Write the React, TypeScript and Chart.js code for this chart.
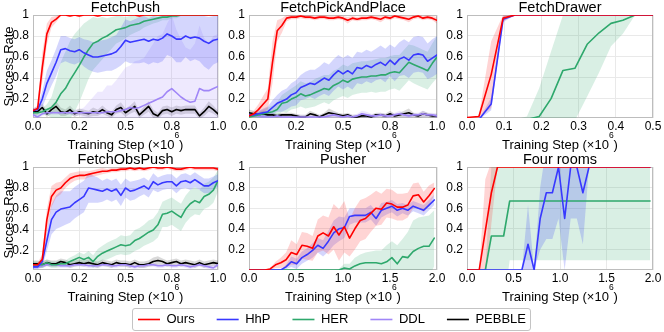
import React, { useEffect, useRef } from "react";
import { Chart, registerables } from "chart.js";

Chart.register(...registerables);

const FONT = '"Liberation Sans", Arial, Helvetica, sans-serif';

const seriesNames = ["Ours", "HhP", "HER", "DDL", "PEBBLE"];
const lineColors = ["#ff0000", "#3838ff", "#2ea86c", "#a086f7", "#000000"];
const bandColors = [
  "rgba(255,40,40,0.2)",
  "rgba(60,70,245,0.22)",
  "rgba(46,168,108,0.18)",
  "rgba(160,134,247,0.18)",
  "rgba(0,0,0,0.15)",
];

const yTicks = [0.2, 0.4, 0.6, 0.8, 1];
const yTickLabels = ["0.2", "0.4", "0.6", "0.8", "1"];
const fetchTicks = [0, 0.25, 0.5, 0.75, 1];
const fetchTickLabels = ["0.0", "0.2", "0.5", "0.8", "1.0"];
const drawerTicks = [0, 0.1, 0.2, 0.3, 0.4, 0.5];
const drawerTickLabels = ["0.0", "0.1", "0.2", "0.3", "0.4", "0.5"];
const longTicks = [0, 0.5, 1, 1.5, 2];
const longTickLabels = ["0.0", "0.5", "1.0", "1.5", "2.0"];

// ---------- x grids ----------
const fetchX = [0,0.025,0.05,0.075,0.1,0.125,0.15,0.175,0.2,0.225,0.25,0.275,0.3,0.325,0.35,0.375,0.4,0.425,0.45,0.475,0.5,0.525,0.55,0.575,0.6,0.625,0.65,0.675,0.7,0.725,0.75,0.775,0.8,0.825,0.85,0.875,0.9,0.925,0.95,0.975,1];
const drawerX = [0,0.032,0.065,0.097,0.129,0.161,0.194,0.226,0.258,0.29,0.323,0.355,0.387,0.419,0.452,0.484,0.5];
const pusherX = [0,0.056,0.113,0.169,0.225,0.282,0.338,0.394,0.45,0.507,0.563,0.619,0.676,0.732,0.788,0.845,0.901,0.957,1.014,1.07,1.126,1.183,1.239,1.295,1.352,1.408,1.464,1.52,1.577,1.633,1.689,1.746,1.802,1.858,1.915,1.971];
const roomsX = [0,0.066,0.131,0.197,0.262,0.328,0.394,0.459,0.525,0.59,0.656,0.722,0.787,0.853,0.918,0.984,1.05,1.115,1.181,1.246,1.312,1.378,1.443,1.509,1.574,1.64,1.706,1.771,1.837,1.902,1.968];

// ---------- FetchPush ----------
const pushOurs = [0.09,0.11,0.5,0.82,0.93,0.96,1,1,0.99,1, 0.99,1,1,1,0.99,1,1,1,1,1, 1,1,1,0.99,1,1,1,1,1,1, 1,1,1,1,1,1,1,1,1,1, 1];
const pushOursSd = [0.02,0.03,0.14,0.1,0.05,0.03,0.01,0.01,0.01,0.01, 0.01,0.01,0.01,0.01,0.01,0.01,0.01,0.01,0.01,0.01, 0.01,0.01,0.01,0.01,0.01,0.01,0.01,0.01,0.01,0.01, 0.01,0.01,0.01,0.01,0.01,0.01,0.01,0.01,0.01,0.01, 0.01];
const pushHhP = [0.09,0.1,0.2,0.35,0.45,0.55,0.67,0.68,0.66,0.65, 0.67,0.64,0.62,0.6,0.6,0.61,0.62,0.63,0.65,0.7, 0.76,0.74,0.75,0.76,0.77,0.75,0.77,0.76,0.78,0.82, 0.8,0.77,0.77,0.8,0.78,0.79,0.78,0.75,0.73,0.76, 0.77];
const pushHhPSd = [0.02,0.03,0.08,0.12,0.12,0.13,0.13,0.12,0.12,0.12, 0.12,0.13,0.14,0.14,0.15,0.15,0.15,0.16,0.16,0.18, 0.2,0.2,0.21,0.22,0.22,0.22,0.22,0.22,0.22,0.2, 0.2,0.22,0.22,0.2,0.22,0.21,0.22,0.24,0.25,0.23, 0.22];
const pushHer = [0.07,0.07,0.08,0.1,0.12,0.17,0.25,0.3,0.38,0.45, 0.52,0.6,0.67,0.73,0.75,0.78,0.8,0.83,0.86,0.87, 0.88,0.9,0.91,0.92,0.94,0.95,0.96,0.97,0.98,0.98, 0.99,0.99,1,1,1,1,1,1,1,1, 1];
const pushHerSd = [0.03,0.03,0.03,0.05,0.1,0.2,0.3,0.35,0.37,0.37, 0.35,0.32,0.28,0.25,0.22,0.2,0.17,0.15,0.13,0.12, 0.1,0.09,0.08,0.07,0.06,0.05,0.04,0.04,0.03,0.03, 0.02,0.02,0.01,0.01,0.01,0.01,0.01,0.01,0.01,0.01, 0.01];
const pushDdl = [0.05,0.03,0.06,0.07,0.07,0.07,0.07,0.07,0.07,0.07, 0.07,0.07,0.07,0.07,0.07,0.07,0.08,0.08,0.08,0.09, 0.1,0.12,0.11,0.12,0.14,0.16,0.18,0.2,0.22,0.27, 0.3,0.26,0.22,0.19,0.17,0.18,0.3,0.28,0.28,0.3, 0.32];
const pushDdlSd = [0.02,0.02,0.02,0.02,0.02,0.02,0.02,0.02,0.02,0.03, 0.03,0.05,0.1,0.15,0.2,0.2,0.25,0.25,0.3,0.35, 0.4,0.4,0.45,0.45,0.45,0.5,0.55,0.6,0.6,0.65, 0.7,0.6,0.55,0.5,0.5,0.55,0.6,0.5,0.45,0.5, 0.5];
const pushPebble = [0.08,0.08,0.12,0.06,0.1,0.13,0.08,0.07,0.1,0.06, 0.08,0.07,0.06,0.08,0.07,0.1,0.07,0.05,0.1,0.12, 0.07,0.1,0.13,0.05,0.09,0.13,0.06,0.04,0.09,0.1, 0.08,0.1,0.09,0.1,0.1,0.1,0.04,0.08,0.13,0.1, 0.06];
const pushPebbleSd = [0.03,0.03,0.04,0.03,0.04,0.05,0.04,0.03,0.04,0.03, 0.03,0.03,0.03,0.04,0.03,0.04,0.03,0.03,0.04,0.05, 0.04,0.04,0.05,0.03,0.04,0.05,0.04,0.03,0.04,0.04, 0.04,0.04,0.04,0.04,0.04,0.04,0.03,0.04,0.05,0.04, 0.03];

// ---------- FetchPickAndPlace ----------
const ppOurs = [0.04,0.06,0.1,0.15,0.2,0.55,0.85,0.9,0.97,0.98, 0.98,0.99,0.98,0.98,0.97,0.98,0.98,0.97,0.97,0.98, 0.97,0.95,0.97,0.96,0.97,0.97,0.98,0.97,0.96,0.98, 0.97,0.99,0.98,0.97,0.96,0.98,0.99,0.97,0.98,0.97, 0.95];
const ppOursSd = [0.02,0.03,0.05,0.08,0.1,0.2,0.1,0.07,0.03,0.02, 0.02,0.02,0.02,0.02,0.02,0.02,0.02,0.02,0.02,0.02, 0.02,0.03,0.02,0.02,0.02,0.02,0.02,0.02,0.03,0.02, 0.02,0.02,0.02,0.02,0.03,0.02,0.02,0.02,0.02,0.02, 0.03];
const ppHhP = [0.05,0.05,0.06,0.07,0.08,0.12,0.16,0.18,0.2,0.24, 0.26,0.31,0.33,0.35,0.34,0.37,0.4,0.38,0.43,0.47, 0.44,0.47,0.44,0.5,0.49,0.52,0.5,0.53,0.55,0.52, 0.57,0.53,0.58,0.6,0.57,0.62,0.63,0.62,0.56,0.59, 0.62];
const ppHhPSd = [0.02,0.02,0.03,0.04,0.05,0.07,0.08,0.1,0.1,0.11, 0.12,0.12,0.13,0.13,0.14,0.14,0.15,0.15,0.15,0.15, 0.15,0.15,0.15,0.15,0.15,0.15,0.15,0.15,0.16,0.16, 0.15,0.16,0.16,0.17,0.17,0.17,0.17,0.17,0.17,0.18, 0.18];
const ppHer = [0.03,0.04,0.05,0.06,0.07,0.08,0.1,0.16,0.17,0.2, 0.22,0.25,0.23,0.24,0.26,0.28,0.3,0.29,0.33,0.35, 0.38,0.36,0.39,0.4,0.41,0.41,0.42,0.42,0.43,0.43, 0.45,0.46,0.45,0.5,0.55,0.53,0.51,0.49,0.47,0.54, 0.6];
const ppHerSd = [0.02,0.02,0.03,0.04,0.05,0.06,0.07,0.08,0.1,0.1, 0.11,0.12,0.12,0.12,0.13,0.13,0.13,0.14,0.14,0.14, 0.15,0.15,0.15,0.15,0.15,0.15,0.15,0.16,0.16,0.16, 0.16,0.16,0.17,0.17,0.17,0.18,0.18,0.18,0.18,0.19, 0.2];
const ppDdl = [0.04,0.05,0.04,0.03,0.03,0.03,0.04,0.03,0.03,0.03, 0.03,0.03,0.03,0.03,0.03,0.03,0.03,0.04,0.05,0.04, 0.03,0.04,0.03,0.04,0.06,0.05,0.04,0.04,0.05,0.04, 0.04,0.05,0.06,0.05,0.04,0.05,0.05,0.06,0.05,0.05, 0.04];
const ppDdlSd = [0.02,0.02,0.02,0.02,0.02,0.02,0.02,0.02,0.02,0.02, 0.02,0.02,0.02,0.02,0.02,0.02,0.02,0.03,0.03,0.02, 0.02,0.02,0.02,0.02,0.03,0.03,0.02,0.02,0.02,0.02, 0.02,0.02,0.03,0.02,0.02,0.02,0.02,0.03,0.02,0.02, 0.02];
const ppPebble = [0.07,0.06,0.05,0.06,0.05,0.05,0.04,0.05,0.05,0.05, 0.04,0.03,0.03,0.06,0.05,0.03,0.05,0.07,0.06,0.05, 0.04,0.05,0.03,0.03,0.04,0.04,0.03,0.05,0.05,0.04, 0.06,0.04,0.05,0.06,0.07,0.05,0.04,0.06,0.05,0.04, 0.04];
const ppPebbleSd = [0.03,0.03,0.02,0.03,0.02,0.02,0.02,0.02,0.02,0.02, 0.02,0.02,0.02,0.03,0.02,0.02,0.02,0.04,0.03,0.02, 0.02,0.02,0.02,0.02,0.02,0.02,0.02,0.02,0.02,0.02, 0.03,0.02,0.02,0.03,0.04,0.02,0.02,0.03,0.02,0.02, 0.02];

// ---------- FetchDrawer ----------
const drawerOurs = [0.02,0.03,0.43,0.97,1,1,1,1,1,1,1,1,1,1,1,1,1];
const drawerOursSd = [0,0.01,0.32,0.03,0,0,0,0,0,0,0,0,0,0,0,0,0];
const drawerHhP = [0,0,0.15,0.96,1,1,1,1,1,1,1,1,1,1,1,1,1];
const drawerHhPSd = [0,0,0.06,0.03,0,0,0,0,0,0,0,0,0,0,0,0,0];
const drawerHer = [0,0,0,0,0,0,0.03,0.2,0.47,0.49,0.72,0.83,0.92,0.95,1,1,1];
const drawerHerSd = [0,0,0,0,0,0.03,0.27,0.45,0.53,0.5,0.5,0.38,0.22,0.13,0,0,0];

// ---------- FetchObsPush ----------
const obsOurs = [0.07,0.07,0.12,0.5,0.72,0.78,0.8,0.85,0.89,0.91, 0.92,0.92,0.93,0.94,0.95,0.96,0.96,0.97,0.97,0.98, 0.98,0.99,0.98,0.99,0.98,0.99,1,0.99,0.99,1, 0.99,0.98,0.98,0.99,1,0.99,0.99,0.99,0.99,0.99, 0.98];
const obsOursSd = [0.02,0.02,0.05,0.1,0.1,0.07,0.06,0.05,0.05,0.04, 0.04,0.04,0.03,0.03,0.03,0.03,0.02,0.02,0.02,0.02, 0.02,0.02,0.02,0.02,0.02,0.02,0.02,0.02,0.02,0.02, 0.02,0.02,0.02,0.02,0.02,0.02,0.02,0.02,0.02,0.02, 0.02];
const obsHhP = [0.05,0.05,0.1,0.3,0.5,0.57,0.6,0.61,0.62,0.66, 0.69,0.72,0.8,0.79,0.78,0.77,0.79,0.77,0.79,0.73, 0.8,0.77,0.78,0.8,0.82,0.79,0.86,0.83,0.85,0.86, 0.86,0.82,0.86,0.87,0.85,0.88,0.85,0.82,0.82,0.85, 0.87];
const obsHhPSd = [0.02,0.02,0.05,0.1,0.14,0.16,0.17,0.16,0.15,0.15, 0.15,0.15,0.14,0.13,0.12,0.1,0.1,0.1,0.1,0.1, 0.09,0.09,0.09,0.08,0.08,0.08,0.08,0.07,0.07,0.07, 0.07,0.07,0.07,0.07,0.07,0.07,0.07,0.07,0.07,0.06, 0.06];
const obsHer = [0.07,0.07,0.07,0.09,0.07,0.07,0.08,0.08,0.1,0.12, 0.14,0.12,0.14,0.1,0.15,0.18,0.2,0.22,0.24,0.26, 0.25,0.26,0.3,0.32,0.35,0.38,0.4,0.45,0.55,0.56, 0.58,0.55,0.52,0.6,0.65,0.68,0.66,0.72,0.74,0.78, 0.87];
const obsHerSd = [0.03,0.03,0.03,0.03,0.03,0.03,0.03,0.03,0.04,0.04, 0.05,0.05,0.06,0.06,0.07,0.07,0.08,0.08,0.08,0.09, 0.09,0.09,0.1,0.1,0.1,0.11,0.11,0.12,0.12,0.13, 0.13,0.13,0.13,0.13,0.13,0.13,0.12,0.12,0.12,0.12, 0.1];
const obsDdl = [0.05,0.05,0.06,0.07,0.07,0.07,0.06,0.06,0.06,0.07, 0.07,0.07,0.06,0.06,0.06,0.07,0.07,0.06,0.06,0.07, 0.07,0.06,0.05,0.06,0.06,0.07,0.07,0.06,0.06,0.07, 0.06,0.06,0.07,0.06,0.05,0.06,0.07,0.06,0.05,0.04, 0.07];
const obsDdlSd = [0.02,0.02,0.02,0.02,0.02,0.02,0.02,0.02,0.02,0.02, 0.02,0.02,0.02,0.02,0.02,0.02,0.02,0.02,0.02,0.02, 0.02,0.02,0.02,0.02,0.02,0.02,0.02,0.02,0.02,0.02, 0.02,0.02,0.02,0.02,0.02,0.02,0.02,0.02,0.02,0.03, 0.02];
const obsPebble = [0.08,0.08,0.07,0.09,0.08,0.08,0.1,0.09,0.07,0.08, 0.09,0.08,0.09,0.08,0.07,0.09,0.08,0.07,0.09,0.08, 0.08,0.07,0.09,0.07,0.07,0.08,0.1,0.11,0.1,0.08, 0.09,0.1,0.08,0.09,0.08,0.07,0.09,0.07,0.08,0.09, 0.08];
const obsPebbleSd = [0.03,0.03,0.03,0.03,0.03,0.03,0.03,0.03,0.03,0.03, 0.03,0.03,0.03,0.03,0.03,0.03,0.03,0.03,0.03,0.03, 0.03,0.03,0.03,0.03,0.03,0.03,0.04,0.04,0.03,0.03, 0.03,0.03,0.03,0.03,0.03,0.03,0.03,0.03,0.03,0.03, 0.03];

// ---------- Pusher ----------
const pusherOurs = [0,0,0,0,0.01,0.05,0.07,0.1,0.17,0.15, 0.24,0.23,0.21,0.33,0.36,0.33,0.42,0.34,0.42,0.31, 0.4,0.48,0.5,0.55,0.6,0.59,0.65,0.64,0.61,0.61, 0.63,0.72,0.73,0.66,0.72,0.79];
const pusherOursSd = [0,0,0,0,0.01,0.03,0.05,0.07,0.12,0.1, 0.13,0.13,0.12,0.16,0.17,0.18,0.22,0.25,0.25,0.18, 0.2,0.2,0.2,0.18,0.17,0.15,0.14,0.14,0.13,0.13, 0.12,0.12,0.12,0.1,0.1,0.06];
const pusherHhP = [0,0,0,0,0,0,0,0.03,0.08,0.06, 0.12,0.15,0.19,0.24,0.21,0.28,0.36,0.4,0.41,0.52, 0.53,0.53,0.53,0.56,0.5,0.58,0.6,0.62,0.58,0.6, 0.58,0.62,0.6,0.58,0.63,0.68];
const pusherHhPSd = [0,0,0,0,0,0,0,0.02,0.05,0.05, 0.06,0.06,0.07,0.07,0.08,0.1,0.12,0.12,0.1,0.08, 0.07,0.07,0.07,0.07,0.07,0.07,0.06,0.06,0.06,0.05, 0.05,0.05,0.05,0.05,0.05,0.05];
const pusherHer = [0,0,0,0,0,0,0,0,0,0, 0,0,0,0,0,0,0,0,0.02,0.01, 0.04,0.06,0.07,0.07,0.07,0.06,0.08,0.12,0.06,0.13, 0.12,0.18,0.21,0.23,0.23,0.31];
const pusherHerSd = [0,0,0,0,0,0,0,0,0,0, 0,0,0,0,0,0,0,0.01,0.04,0.05, 0.08,0.09,0.1,0.11,0.12,0.13,0.16,0.16,0.18,0.17, 0.25,0.3,0.3,0.29,0.3,0.27];

// ---------- Four rooms ----------
const roomsOurs = [0,0,0,0.38,0.75,1,1,1,1,1, 1,1,1,1,1,1,1,1,1,1, 1,1,1,1,1,1,1,1,1,1, 1];
const roomsOursSd = [0,0,0,0.5,0.3,0,0,0,0,0, 0,0,0,0,0,0,0,0,0,0, 0,0,0,0,0,0,0,0,0,0, 0];
const roomsHhP = [0,0,0,0,0,0,0,0,0,0, 0.25,0,0.5,0.75,0.75,1,0.5,1,1,0.75, 1,1,1,1,1,1,1,1,1,1, 1];
const roomsHhPSd = [0,0,0,0,0,0,0,0,0,0, 0.38,0,0.3,0.45,0.45,0.5,0.5,0.5,0.5,0.5, 0,0,0,0,0,0,0,0,0,0, 0];
const roomsHer = [0,0,0,0,0.33,0.33,0.33,0.67,0.67,0.67, 0.67,0.67,0.67,0.67,0.67,0.67,0.67,0.67,0.67,0.67, 0.67,0.67,0.67,0.67,0.67,0.67,0.67,0.67,0.67,0.67, 0.67];
const roomsHerSd = [0,0,0,0,0.67,0.67,0.67,0.575,0.575,0.575, 0.575,0.575,0.575,0.575,0.575,0.575,0.575,0.575,0.575,0.575, 0.575,0.575,0.575,0.575,0.575,0.575,0.575,0.575,0.575,0.575, 0.575];

type SeriesDef = [number, number[], number[]];
type PanelDef = {
  title: string;
  row: number;
  col: number;
  xs: number[];
  xMax: number;
  ticks: number[];
  tickLabels: string[];
  yMin: number;
  series: SeriesDef[];
};

const panels: PanelDef[] = [
  { title: "FetchPush", row: 0, col: 0, xs: fetchX, xMax: 1, ticks: fetchTicks, tickLabels: fetchTickLabels, yMin: 0.02,
    series: [[0, pushOurs, pushOursSd], [1, pushHhP, pushHhPSd], [2, pushHer, pushHerSd], [3, pushDdl, pushDdlSd], [4, pushPebble, pushPebbleSd]] },
  { title: "FetchPickAndPlace", row: 0, col: 1, xs: fetchX, xMax: 1, ticks: fetchTicks, tickLabels: fetchTickLabels, yMin: 0.02,
    series: [[0, ppOurs, ppOursSd], [1, ppHhP, ppHhPSd], [2, ppHer, ppHerSd], [3, ppDdl, ppDdlSd], [4, ppPebble, ppPebbleSd]] },
  { title: "FetchDrawer", row: 0, col: 2, xs: drawerX, xMax: 0.5, ticks: drawerTicks, tickLabels: drawerTickLabels, yMin: 0.015,
    series: [[0, drawerOurs, drawerOursSd], [1, drawerHhP, drawerHhPSd], [2, drawerHer, drawerHerSd]] },
  { title: "FetchObsPush", row: 1, col: 0, xs: fetchX, xMax: 1, ticks: fetchTicks, tickLabels: fetchTickLabels, yMin: 0.02,
    series: [[0, obsOurs, obsOursSd], [1, obsHhP, obsHhPSd], [2, obsHer, obsHerSd], [3, obsDdl, obsDdlSd], [4, obsPebble, obsPebbleSd]] },
  { title: "Pusher", row: 1, col: 1, xs: pusherX, xMax: 2, ticks: longTicks, tickLabels: longTickLabels, yMin: 0,
    series: [[0, pusherOurs, pusherOursSd], [1, pusherHhP, pusherHhPSd], [2, pusherHer, pusherHerSd]] },
  { title: "Four rooms", row: 1, col: 2, xs: roomsX, xMax: 2, ticks: longTicks, tickLabels: longTickLabels, yMin: 0,
    series: [[0, roomsOurs, roomsOursSd], [1, roomsHhP, roomsHhPSd], [2, roomsHer, roomsHerSd]] },
];

const COLS = [
  { left: 0, w: 230, yw: 33, pr: 12 },
  { left: 220, w: 229, yw: 29, pr: 12 },
  { left: 440, w: 224, yw: 27, pr: 11 },
];
const ROWS = [
  { top: 0, h: 153, th: 15 },
  { top: 151, h: 154, th: 16 },
];
const GRID = "#e9e9e9";
const FRAME = "#bdbdbd";

function makeConfig(def: PanelDef): any {
  const col = COLS[def.col];
  const row = ROWS[def.row];
  const datasets: any[] = [];
  def.series.forEach(([k, m, sd]) => {
    datasets.push({
      data: def.xs.map((x, i) => ({ x, y: m[i] - sd[i] })),
      borderColor: "rgba(0,0,0,0)",
      borderWidth: 0,
      pointRadius: 0,
      fill: false,
      order: 20 + k,
    });
    datasets.push({
      data: def.xs.map((x, i) => ({ x, y: m[i] + sd[i] })),
      borderColor: "rgba(0,0,0,0)",
      backgroundColor: bandColors[k],
      borderWidth: 0,
      pointRadius: 0,
      fill: "-1",
      order: 20 + k,
    });
  });
  def.series.forEach(([k, m]) => {
    datasets.push({
      label: seriesNames[k],
      data: def.xs.map((x, i) => ({ x, y: m[i] })),
      borderColor: lineColors[k],
      borderWidth: 1.6,
      pointRadius: 0,
      fill: false,
      tension: 0,
      borderJoinStyle: "round",
      borderCapStyle: "round",
      order: k,
    });
  });

  const tickFont = { family: FONT, size: 12 };

  const overlay = {
    id: "overlay",
    beforeDatasetsDraw(chart: any) {
      const { ctx, chartArea: a } = chart;
      ctx.save();
      ctx.strokeStyle = FRAME;
      ctx.lineWidth = 1;
      ctx.strokeRect(a.left + 0.5, a.top + 0.5, a.right - a.left - 1, a.bottom - a.top - 1);
      ctx.restore();
    },
    afterDraw(chart: any) {
      const { ctx, chartArea: a } = chart;
      ctx.save();
      ctx.fillStyle = "#000";
      ctx.textBaseline = "alphabetic";
      const cx = (a.left + a.right) / 2;
      ctx.textAlign = "center";
      ctx.font = `14.5px ${FONT}`;
      ctx.fillText(def.title, cx, a.top - 3.5);

      const main = "Training Step (\u00d710";
      ctx.font = `13px ${FONT}`;
      const w1 = ctx.measureText(main).width;
      const w3 = ctx.measureText(")").width;
      ctx.font = `8.5px ${FONT}`;
      const w2 = ctx.measureText("6").width;
      const x0 = cx - (w1 + w2 + w3) / 2;
      const by = a.bottom + 31;
      ctx.textAlign = "left";
      ctx.font = `13px ${FONT}`;
      ctx.fillText(main, x0, by);
      ctx.fillText(")", x0 + w1 + w2, by);
      ctx.font = `8.5px ${FONT}`;
      ctx.fillText("6", x0 + w1, by - 11.5);

      if (def.col === 0) {
        ctx.translate(12.5, (a.top + a.bottom) / 2);
        ctx.rotate(-Math.PI / 2);
        ctx.textAlign = "center";
        ctx.font = `13px ${FONT}`;
        ctx.fillText("Success Rate", 0, 0);
      }
      ctx.restore();
    },
  };

  return {
    type: "line",
    data: { datasets },
    options: {
      animation: false,
      responsive: false,
      devicePixelRatio: 1,
      events: [],
      layout: { padding: { top: row.th, right: col.pr, left: 0, bottom: 0 } },
      plugins: {
        legend: { display: false },
        tooltip: { enabled: false },
        title: { display: false },
      },
      scales: {
        x: {
          type: "linear",
          min: 0,
          max: def.xMax,
          afterBuildTicks: (sc: any) => {
            sc.ticks = def.ticks.map((v) => ({ value: v }));
          },
          afterFit: (sc: any) => {
            sc.height = 35;
          },
          ticks: {
            callback: (_v: any, i: number) => def.tickLabels[i],
            color: "#000",
            font: tickFont,
            padding: 1.5,
            maxRotation: 0,
            minRotation: 0,
            autoSkip: false,
          },
          grid: { color: GRID, lineWidth: 1, drawTicks: false },
          border: { display: false },
        },
        y: {
          type: "linear",
          min: def.yMin,
          max: 1,
          afterBuildTicks: (sc: any) => {
            sc.ticks = yTicks.map((v) => ({ value: v }));
          },
          afterFit: (sc: any) => {
            sc.width = col.yw;
          },
          ticks: {
            callback: (_v: any, i: number) => yTickLabels[i],
            color: "#000",
            font: tickFont,
            padding: 4,
            autoSkip: false,
          },
          grid: { color: GRID, lineWidth: 1, drawTicks: false },
          border: { display: false },
        },
      },
    },
    plugins: [overlay],
  };
}

function Panel({ def }: { def: PanelDef }) {
  const ref = useRef<HTMLCanvasElement>(null);
  const col = COLS[def.col];
  const row = ROWS[def.row];
  useEffect(() => {
    const chart = new Chart(ref.current as HTMLCanvasElement, makeConfig(def));
    return () => chart.destroy();
  }, []);
  return (
    <canvas
      ref={ref}
      width={col.w}
      height={row.h}
      style={{ position: "absolute", left: col.left, top: row.top, width: col.w, height: row.h }}
    />
  );
}

function Legend() {
  const ref = useRef<HTMLCanvasElement>(null);
  useEffect(() => {
    const chart = new Chart(ref.current as HTMLCanvasElement, {
      type: "line",
      data: {
        datasets: seriesNames.map((name, k) => ({
          label: name,
          data: [],
          borderColor: lineColors[k],
          backgroundColor: lineColors[k],
          borderWidth: 1.6,
        })),
      },
      options: {
        animation: false,
        responsive: false,
        devicePixelRatio: 1,
        events: [],
        layout: { padding: 0 },
        scales: { x: { display: false }, y: { display: false } },
        plugins: {
          tooltip: { enabled: false },
          legend: {
            display: true,
            position: "top",
            align: "center",
            labels: {
              usePointStyle: true,
              pointStyle: "line",
              pointStyleWidth: 22,
              padding: 22,
              color: "#000",
              font: { family: FONT, size: 13 },
            },
          },
        },
      },
    } as any);
    return () => chart.destroy();
  }, []);
  return (
    <canvas
      ref={ref}
      width={664}
      height={100}
      style={{ position: "absolute", left: 0, top: 291, width: 664, height: 100 }}
    />
  );
}

export default function App() {
  return (
    <div
      style={{
        position: "fixed",
        left: 0,
        top: 0,
        width: 664,
        height: 332,
        overflow: "hidden",
        background: "#fff",
      }}
    >
      {panels.map((p) => (
        <Panel key={p.title} def={p} />
      ))}
      <div
        style={{
          position: "absolute",
          left: 132,
          top: 308,
          width: 399,
          height: 23,
          boxSizing: "border-box",
          border: "1px solid #c4c4c4",
          borderRadius: 3,
        }}
      />
      <Legend />
    </div>
  );
}
